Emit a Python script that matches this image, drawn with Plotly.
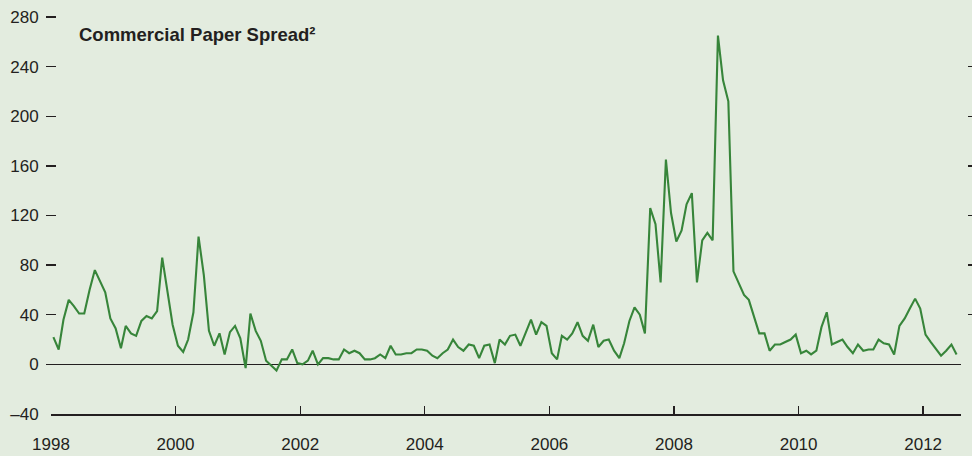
import plotly.graph_objects as go

# Monthly observations, Jan 1998 - Jul 2012 (basis points)
start_year = 1998
n_months = 175
dates = [f"{start_year + i // 12}-{i % 12 + 1:02d}-15" for i in range(n_months)]

spread = [
    22, 12, 36, 52, 47, 41, 41, 60, 76, 67, 58, 37,          # 1998
    29, 13, 31, 25, 23, 35, 39, 37, 43, 86, 58, 32,          # 1999
    15, 10, 20, 42, 103, 72, 27, 15, 25, 8, 26, 31,          # 2000
    21, -3, 41, 27, 19, 3, -1, -5, 4, 4, 12, 1,              # 2001
    0, 3, 11, 0, 5, 5, 4, 4, 12, 9, 11, 9,                   # 2002
    4, 4, 5, 8, 5, 15, 8, 8, 9, 9, 12, 12,                   # 2003
    11, 7, 5, 9, 12, 20, 14, 11, 16, 15, 5, 15,              # 2004
    16, 1, 20, 16, 23, 24, 15, 25, 36, 24, 34, 31,           # 2005
    9, 4, 23, 20, 25, 34, 23, 19, 32, 14, 19, 20,            # 2006
    11, 5, 17, 35, 46, 40, 25, 126, 113, 66, 165, 122,       # 2007
    99, 108, 129, 138, 66, 100, 106, 100, 265, 229, 212, 75, # 2008
    65, 56, 52, 38, 25, 25, 11, 16, 16, 18, 20, 24,          # 2009
    9, 11, 8, 11, 30, 42, 16, 18, 20, 14, 9, 16,             # 2010
    11, 12, 12, 20, 17, 16, 8, 31, 37, 45, 53, 45,           # 2011
    24, 18, 13, 7, 11, 16, 8,                                # 2012
]

y_tickvals = [0, 40, 80, 120, 160, 200, 240, 280]
y_ticktext = ["0", "40", "80", "120", "160", "200", "240", "280"]
y_bottom_val = [-40]
y_bottom_text = ["\u201340"]
right_tickvals = [40, 80, 120, 160, 200, 240, 280]
y_range = [-40, 280]
x_range = ["1998-01-01", "2012-08-10"]
title_text = "Commercial Paper Spread\u00b2"

BG = "#e3ecdf"
INK = "#231f20"
GREEN = "#37853a"

W, H = 972, 456
ML, MR, MT, MB = 46, 0, 17, 42
pw = W - ML - MR
ph = H - MT - MB

fig = go.Figure()
fig.add_trace(go.Scatter(
    x=dates, y=spread, mode="lines",
    line=dict(color=GREEN, width=2.1),
    hoverinfo="skip", showlegend=False,
))
for ax in ("y2", "y3"):
    fig.add_trace(go.Scatter(
        x=dates, y=spread, mode="lines", yaxis=ax,
        line=dict(color="rgba(0,0,0,0)", width=0),
        hoverinfo="skip", showlegend=False,
    ))

font_main = "Liberation Sans, Arial, sans-serif"
ypos = (56 - ML) / pw

fig.update_layout(
    width=W, height=H,
    margin=dict(l=ML, r=MR, t=MT, b=MB, autoexpand=False),
    paper_bgcolor=BG, plot_bgcolor=BG,
    font=dict(family=font_main, size=17, color=INK),
    xaxis=dict(
        domain=[(51 - ML) / pw, (961 - ML) / pw],
        range=x_range, type="date",
        tick0="1998-01-01", dtick="M24", tickformat="%Y",
        ticks="inside", ticklen=8, tickwidth=1.3, tickcolor=INK,
        showline=True, linecolor=INK, linewidth=1.5,
        showgrid=False, zeroline=False,
        ticklabelstandoff=14,
        tickfont=dict(size=17, color=INK),
    ),
    yaxis=dict(
        range=y_range, anchor="free", position=ypos,
        tickvals=y_tickvals, ticktext=y_ticktext,
        ticks="outside", ticklen=10, tickwidth=1.3, tickcolor=INK,
        showline=False, showgrid=False,
        zeroline=True, zerolinecolor=INK, zerolinewidth=1.4,
        ticklabelstandoff=4,
        tickfont=dict(size=17, color=INK),
    ),
    yaxis3=dict(
        range=y_range, overlaying="y", side="left", anchor="free", position=ypos,
        tickvals=y_bottom_val, ticktext=y_bottom_text,
        ticks="outside", ticklen=10, tickcolor="rgba(0,0,0,0)",
        showline=False, showgrid=False, zeroline=False,
        ticklabelstandoff=4,
        tickfont=dict(size=17, color=INK),
    ),
    yaxis2=dict(
        range=y_range, overlaying="y", side="right",
        anchor="free", position=1.0,
        tickvals=right_tickvals, showticklabels=False,
        ticks="inside", ticklen=4, tickwidth=1.3, tickcolor=INK,
        showline=False, showgrid=False, zeroline=False,
    ),
    annotations=[dict(
        text=title_text, xref="paper", yref="paper",
        x=(77 - ML) / pw, y=(414 - 35) / ph,
        xanchor="left", yanchor="middle", showarrow=False,
        font=dict(family=font_main, size=18.5, color=INK, weight="bold"),
    )],
)

fig.write_html(
    "out.html",
    config={"displayModeBar": False, "staticPlot": True},
    post_script="document.body.style.margin='0';document.body.style.background='" + BG + "';",
)
